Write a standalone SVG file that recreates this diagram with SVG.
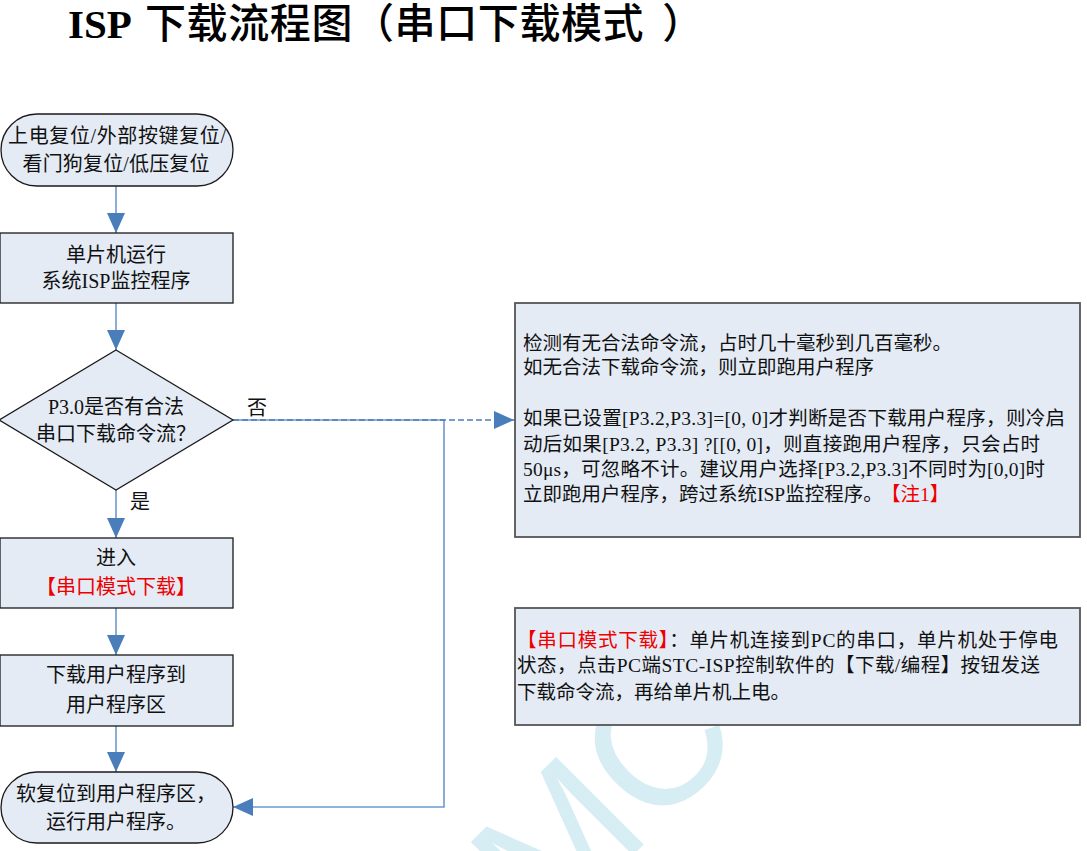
<svg xmlns="http://www.w3.org/2000/svg" width="1087" height="851" viewBox="0 0 1087 851">
<defs>
<style>
.bg{fill:#ffffff}
.node{fill:#e4ebf5;stroke:#1a1a1a;stroke-width:1.3}
.note{fill:#e4ebf5;stroke:#555555;stroke-width:1.8}
.t{font-family:"Liberation Serif","Noto Sans CJK SC",serif;font-size:20px;fill:#111111}
.c{text-anchor:middle}
.n{font-family:"Liberation Serif","Noto Sans CJK SC",serif;font-size:19.5px;fill:#111111}
.red{fill:#ee0000}
.ln{fill:none;stroke:#6f98d0;stroke-width:1.6}
.dash{fill:none;stroke:#4a7ebb;stroke-width:1.6;stroke-dasharray:6 3}
.title{font-family:"Liberation Serif","Noto Sans CJK SC",serif;font-size:41px;font-weight:500;fill:#000000}
.b{font-weight:bold}
.wm{font-family:"Liberation Sans",sans-serif;font-size:180px;fill:#d6edf4}
</style>
<marker id="ah" viewBox="0 0 20 18" refX="20" refY="9" markerWidth="20" markerHeight="18" markerUnits="userSpaceOnUse" orient="auto">
<path d="M0,0 L20,9 L0,18 Z" fill="#4a7ebb"/>
</marker>
</defs>
<rect class="bg" x="0" y="0" width="1087" height="851"/>
<text class="wm" transform="translate(548,940) rotate(-45)">MC</text>

<text class="title b" x="68" y="38">ISP</text>
<text class="title" x="145" y="38" letter-spacing="0.6">下载流程图（串口下载模式<tspan dx="18">）</tspan></text>

<g id="connectors">
<path class="ln" d="M116,186 V233" marker-end="url(#ah)"/>
<path class="ln" d="M116,303 V350" marker-end="url(#ah)"/>
<path class="ln" d="M116,490 V538" marker-end="url(#ah)"/>
<path class="ln" d="M116,608 V655" marker-end="url(#ah)"/>
<path class="ln" d="M116,726 V772" marker-end="url(#ah)"/>
<path class="ln" d="M233,420 H444 V807 H233" marker-end="url(#ah)"/>
<path class="dash" d="M233,420 H514" marker-end="url(#ah)"/>
<text class="t" x="247" y="415">否</text>
<text class="t" x="130" y="509">是</text>
</g>

<g id="start">
<rect class="node" x="1" y="114" width="232" height="72" rx="36" ry="36"/>
<text class="t c" x="117" y="143" textLength="218" lengthAdjust="spacing">上电复位/外部按键复位/</text>
<text class="t c" x="116" y="171" textLength="187" lengthAdjust="spacing">看门狗复位/低压复位</text>
</g>

<g id="isp-monitor">
<rect class="node" x="0" y="233" width="233" height="70"/>
<text class="t c" x="116" y="262">单片机运行</text>
<text class="t c" x="116" y="288">系统ISP监控程序</text>
</g>

<g id="decision">
<polygon class="node" points="116,350 233,420 116,490 -1,420"/>
<text class="t c" x="116" y="414">P3.0是否有合法</text>
<text class="t c" x="116" y="441">串口下载命令流？</text>
</g>

<g id="enter-serial">
<rect class="node" x="0" y="538" width="233" height="70"/>
<text class="t c" x="116" y="565">进入</text>
<text class="t c red" x="116" y="594">【串口模式下载】</text>
</g>

<g id="download">
<rect class="node" x="0" y="655" width="233" height="71"/>
<text class="t c" x="116" y="682">下载用户程序到</text>
<text class="t c" x="116" y="712">用户程序区</text>
</g>

<g id="run-user">
<rect class="node" x="1" y="772" width="232" height="71" rx="36" ry="35.5"/>
<text class="t c" x="116" y="801">软复位到用户程序区，</text>
<text class="t c" x="116" y="829">运行用户程序。</text>
</g>

<g id="note-detect">
<rect class="note" x="515" y="303" width="565" height="234"/>
<text class="n" x="523" y="350">检测有无合法命令流，占时几十毫秒到几百毫秒。</text>
<text class="n" x="523" y="374">如无合法下载命令流，则立即跑用户程序</text>
<text class="n" x="523" y="425" textLength="542" lengthAdjust="spacing">如果已设置[P3.2,P3.3]=[0, 0]才判断是否下载用户程序，则冷启</text>
<text class="n" x="523" y="451" textLength="517" lengthAdjust="spacing">动后如果[P3.2, P3.3] ?[[0, 0]，则直接跑用户程序，只会占时</text>
<text class="n" x="523" y="476" textLength="522" lengthAdjust="spacing">50μs，可忽略不计。建议用户选择[P3.2,P3.3]不同时为[0,0]时</text>
<text class="n" x="523" y="501">立即跑用户程序，跨过系统ISP监控程序。<tspan class="red" dx="8">【注1】</tspan></text>
</g>

<g id="note-serial">
<rect class="note" x="515" y="608" width="565" height="117"/>
<text class="n" x="517" y="647" textLength="541" lengthAdjust="spacing"><tspan class="red">【串口模式下载】</tspan>：单片机连接到PC的串口，单片机处于停电</text>
<text class="n" x="517" y="672" textLength="523" lengthAdjust="spacing">状态，点击PC端STC-ISP控制软件的【下载/编程】按钮发送</text>
<text class="n" x="517" y="699">下载命令流，再给单片机上电。</text>
</g>
</svg>
